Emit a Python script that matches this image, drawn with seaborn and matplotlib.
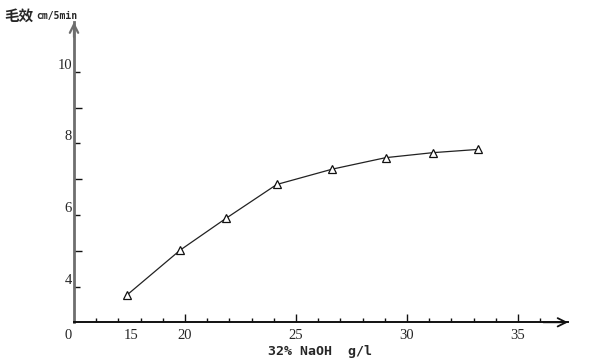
import matplotlib
matplotlib.use("Agg")
import matplotlib.pyplot as plt
import seaborn as sns
import pandas as pd
from matplotlib.transforms import blended_transform_factory

# data
naoh = [17.40, 19.79, 21.86, 24.13, 26.64, 29.04, 31.17, 33.20]
capillary = [3.77, 5.02, 5.91, 6.85, 7.28, 7.60, 7.74, 7.83]
x_major = [20, 25, 30, 35]
x_major_labels = ["20", "25", "30", "35"]
x_minor = [16, 17, 18, 19, 21, 22, 23, 24, 26, 27, 28, 29, 31, 32, 33, 34, 36]
x_extra_labels = ["0", "15"]
y_major = [4, 6, 8, 10]
y_major_labels = ["4", "6", "8", "10"]
y_minor = [5, 7, 9]
y_title = "毛效"
y_unit = "cm/5min"
x_title = "32% NaOH  g/l"

sns.set_style("white")
plt.rcParams['font.family'] = ['Liberation Serif', 'DejaVu Serif']

W, H = 605, 361
fig = plt.figure(figsize=(W / 100, H / 100), dpi=100)
x0, x1 = 74, 568
y0, y1 = 322.3, 22
ax = fig.add_axes([x0 / W, 1 - y0 / H, (x1 - x0) / W, (y0 - y1) / H])

df = pd.DataFrame({"naoh": naoh, "cap": capillary})
sns.lineplot(data=df, x="naoh", y="cap", ax=ax, color="#222222", linewidth=0.9,
             marker="^", markersize=6, markerfacecolor="white",
             markeredgecolor="#111111", markeredgewidth=0.9)

ax.set_xlim(15, 37.25)
ax.set_ylim(3, 11.39)

for s in ["top", "right"]:
    ax.spines[s].set_visible(False)
ax.spines["left"].set_color("#6e6e6e")
ax.spines["left"].set_linewidth(2.0)
ax.spines["bottom"].set_color("#111111")
ax.spines["bottom"].set_linewidth(1.4)

# arrows
ax.annotate("", xy=(1.0, 0), xytext=(0.95, 0), xycoords="axes fraction",
            arrowprops=dict(arrowstyle="->,head_length=0.6,head_width=0.3",
                            color="#111111", lw=1.3, shrinkA=0, shrinkB=0),
            annotation_clip=False)
ax.annotate("", xy=(0, 1.0), xytext=(0, 0.95), xycoords="axes fraction",
            arrowprops=dict(arrowstyle="->,head_length=0.6,head_width=0.3",
                            color="#6e6e6e", lw=1.6, shrinkA=0, shrinkB=0),
            annotation_clip=False)

ax.set_xticks(x_major)
ax.set_xticklabels(x_major_labels)
ax.set_xticks(x_minor, minor=True)
ax.set_yticks(y_major)
ax.set_yticklabels(y_major_labels)
ax.set_yticks(y_minor, minor=True)

ax.tick_params(axis="x", which="major", direction="in", length=5.5, width=1,
               color="#111111", pad=5, labelsize=10.5, bottom=True)
ax.tick_params(axis="x", which="minor", direction="in", length=3, width=1,
               color="#111111", bottom=True)
ax.tick_params(axis="y", which="major", direction="in", length=4, width=1,
               color="#111111", pad=1.5, labelsize=10.5, left=True)
ax.tick_params(axis="y", which="minor", direction="in", length=5.5, width=1,
               color="#111111", left=True)
for lab in ax.get_yticklabels():
    lab.set_verticalalignment("bottom")

trans = blended_transform_factory(ax.transData, ax.transAxes)
ax.text(14.74, -0.022, x_extra_labels[0], transform=trans, ha="center", va="top",
        fontsize=10.5)
ax.text(17.57, -0.022, x_extra_labels[1], transform=trans, ha="center", va="top",
        fontsize=10.5)

ax.set_xlabel("")
ax.set_ylabel("")

fig.text(268 / W, 1 - 352 / H, x_title, ha="left", va="center",
         fontsize=9.5, fontweight="bold", family="DejaVu Sans Mono")
fig.text(4 / W, 1 - 16 / H, y_title, ha="left", va="center", fontsize=10.5,
         fontweight="bold", family=["Noto Sans CJK SC", "DejaVu Sans"])
fig.text(36 / W, 1 - 16 / H, y_unit, ha="left", va="center", fontsize=7,
         fontweight="bold", family="DejaVu Sans Mono")

fig.savefig("out.png", dpi=100)
